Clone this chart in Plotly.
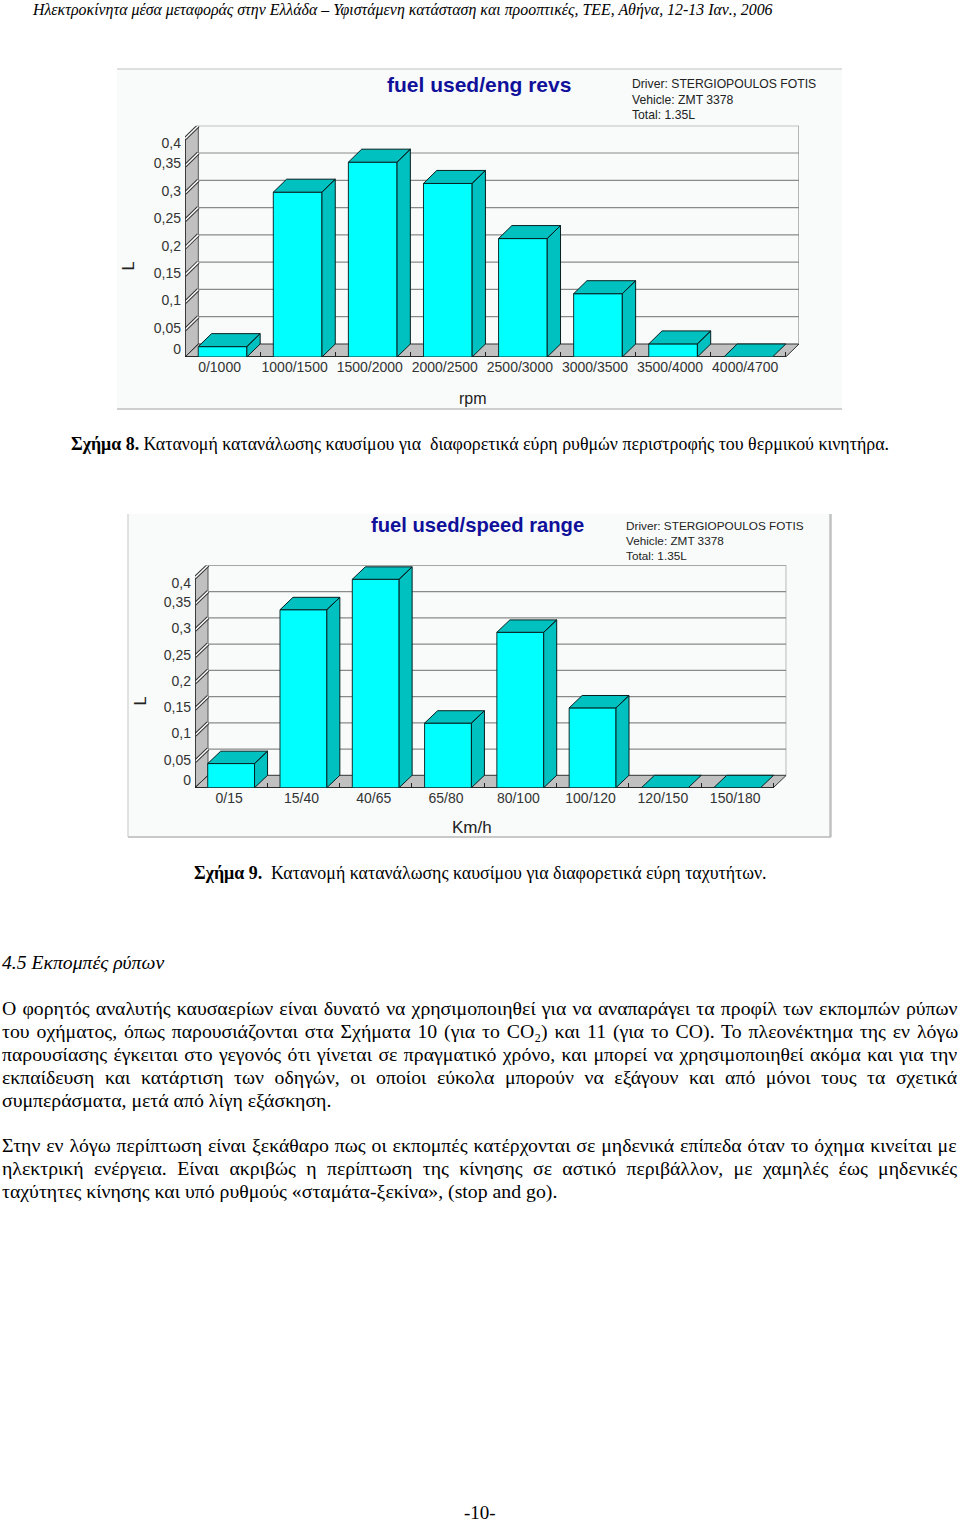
import plotly.graph_objects as go

# ---------- data ----------
rpm_categories = ["0/1000", "1000/1500", "1500/2000", "2000/2500", "2500/3000", "3000/3500", "3500/4000", "4000/4700"]
rpm_fuel = [0.019, 0.302, 0.357, 0.318, 0.217, 0.116, 0.024, 0.0]
speed_categories = ["0/15", "15/40", "40/65", "65/80", "80/100", "100/120", "120/150", "150/180"]
speed_fuel = [0.046, 0.339, 0.397, 0.123, 0.296, 0.152, 0.0, 0.0]
y_ticks = [0, 0.05, 0.1, 0.15, 0.2, 0.25, 0.3, 0.35, 0.4]
y_tick_labels = ["0", "0,05", "0,1", "0,15", "0,2", "0,25", "0,3", "0,35", "0,4"]

header = "Ηλεκτροκίνητα μέσα μεταφοράς στην Ελλάδα – Υφιστάμενη κατάσταση και προοπτικές, ΤΕΕ, Αθήνα, 12-13 Ιαν., 2006"
caption_8 = "<b>Σχήμα 8.</b> Κατανομή κατανάλωσης καυσίμου για  διαφορετικά εύρη ρυθμών περιστροφής του θερμικού κινητήρα."
caption_9 = "<b>Σχήμα 9.</b>  Κατανομή κατανάλωσης καυσίμου για διαφορετικά εύρη ταχυτήτων."
section = "4.5 Εκπομπές ρύπων"
body_lines = [
    "Ο φορητός αναλυτής καυσαερίων είναι δυνατό να χρησιμοποιηθεί για να αναπαράγει τα προφίλ των εκπομπών ρύπων",
    "του οχήματος, όπως παρουσιάζονται στα Σχήματα 10 (για το CO₂) και 11 (για το CO). Το πλεονέκτημα της εν λόγω",
    "παρουσίασης έγκειται στο γεγονός ότι γίνεται σε πραγματικό χρόνο, και μπορεί να χρησιμοποιηθεί ακόμα και για την",
    "εκπαίδευση και κατάρτιση των οδηγών, οι οποίοι εύκολα μπορούν να εξάγουν και από μόνοι τους τα σχετικά",
    "συμπεράσματα, μετά από λίγη εξάσκηση.",
    "Στην εν λόγω περίπτωση είναι ξεκάθαρο πως οι εκπομπές κατέρχονται σε μηδενικά επίπεδα όταν το όχημα κινείται με",
    "ηλεκτρική ενέργεια. Είναι ακριβώς η περίπτωση της κίνησης σε αστικό περιβάλλον, με χαμηλές έως μηδενικές",
    "ταχύτητες κίνησης και υπό ρυθμούς «σταμάτα-ξεκίνα», (stop and go).",
]
page_number = "-10-"

# ---------- layout constants ----------
W, H = 960, 1520
SERIF = "Liberation Serif"
SANS = "Liberation Sans"
CYAN = "#00ffff"
TEAL = "#00c0c0"
WALL = "#c0c0c0"
PANEL = "#f8fbfa"
GRID = "#8a8a8a"
body_y = [1008, 1031, 1054, 1077, 1100, 1145, 1168, 1191]
body_ws = [1.2, 1.95, 1.46, 5.6, 0, 0.94, 5.4, 0]

fig = go.Figure()
shapes, annotations = [], []


def px(x):
    return x / W


def py(y):
    return 1 - y / H


def note(x, y, text, size, family=SERIF, color="#000000", anchor="left", style="normal", angle=0):
    annotations.append(dict(xref="paper", yref="paper", x=px(x), y=py(y), text=text, showarrow=False,
                            xanchor=anchor, yanchor="middle", align="left", borderpad=0, textangle=angle,
                            font=dict(family=family, size=size, color=color, style=style)))


def panel(x0, y0, x1, y1):
    shapes.append(dict(type="rect", xref="paper", yref="paper", x0=px(x0), x1=px(x1), y0=py(y0), y1=py(y1),
                       fillcolor=PANEL, line_width=0, layer="below"))


def edge(x0, y0, x1, y1, color, width):
    shapes.append(dict(type="line", xref="paper", yref="paper", x0=px(x0), x1=px(x1), y0=py(y0), y1=py(y1),
                       line=dict(color=color, width=width), layer="below"))


def chart(n, cats, vals, left, right, floor, top, dx, dy, label_nudge_px, x_shift):
    """Pseudo-3D column chart; left/right/floor/top bound the front plane in page pixels."""
    xa, ya = f"x{n}" if n > 1 else "x", f"y{n}" if n > 1 else "y"
    nc = len(cats)
    xunit, yunit = (right - left) / nc, (floor - top) / max(y_ticks)
    du, dv = dx / xunit, dy / yunit
    ref = dict(xref=xa, yref=ya, layer="below")

    def poly(points, fill, color="#000000", width=1):
        d = "M" + " L".join(f"{a:.5f},{b:.5f}" for a, b in points) + " Z"
        shapes.append(dict(type="path", path=d, fillcolor=fill, line=dict(color=color, width=width), **ref))

    def seg(a0, b0, a1, b1, color, width):
        shapes.append(dict(type="line", x0=a0, y0=b0, x1=a1, y1=b1, line=dict(color=color, width=width), **ref))

    ymax = max(y_ticks)
    # wall and floor
    poly([(0, 0), (du, dv), (du, ymax + dv), (0, ymax)], WALL, "#555555", 1)
    poly([(0, 0), (nc, 0), (nc + du, dv), (du, dv)], WALL, "#333333", 1)
    # back plane grid
    for v in y_ticks[1:]:
        seg(du, v + dv, nc + du, v + dv, GRID, 1.2)
    seg(nc + du, dv, nc + du, ymax + dv, GRID, 1.2)
    # tick slats on the wall
    for v in y_ticks[1:]:
        seg(0, v, du, v + dv, "#333333", 3.5)
        seg(0, v, du, v + dv, "#ffffff", 1.5)
    seg(0, 0, du, dv, "#333333", 1)
    seg(0, 0, 0, ymax, "#222222", 1.5)
    seg(0, 0, nc, 0, "#111111", 1.5)

    centers = [i + 0.5 for i in range(nc)]
    bw = 0.648
    fig.add_trace(go.Bar(x=centers, y=vals, width=bw, xaxis=xa, yaxis=ya, hoverinfo="skip",
                         marker=dict(color=CYAN, line=dict(color="#103030", width=1))))
    fx, fy = [], []
    for c, v in zip(centers, vals):
        l, r = c - bw / 2, c + bw / 2
        face_top = [(l, v), (r, v), (r + du, v + dv), (l + du, v + dv), (l, v)]
        face_side = [(r, 0), (r + du, dv), (r + du, v + dv), (r, v), (r, 0)]
        for a, b in face_top + [(None, None)] + (face_side + [(None, None)] if v > 0 else []):
            fx.append(a)
            fy.append(b)
    fig.add_trace(go.Scatter(x=fx, y=fy, xaxis=xa, yaxis=ya, mode="lines", fill="toself", fillcolor=TEAL,
                             line=dict(color="#062020", width=1), hoverinfo="skip"))

    tickpos = [t + label_nudge_px.get(t, 0) / yunit for t in y_ticks]
    layout_x = dict(domain=[px(left), px(right + dx)], range=[0, nc + du], anchor=ya, tickmode="array",
                    tickvals=centers, ticktext=cats, ticks="", showgrid=False, zeroline=False, showline=False,
                    ticklabelshift=x_shift, ticklabelstandoff=0,
                    tickfont=dict(family=SANS, size=14, color="#333333"),
                    minor=dict(tickmode="array", tickvals=list(range(1, nc + 1)), ticks="inside", ticklen=5,
                               tickcolor="#222222", tickwidth=1))
    layout_y = dict(domain=[py(floor), py(top - dy)], range=[0, ymax + dv], anchor=xa, tickmode="array",
                    tickvals=tickpos, ticktext=y_tick_labels, ticks="", showgrid=False, zeroline=False,
                    showline=False, ticklabelstandoff=3,
                    tickfont=dict(family=SANS, size=14, color="#333333"))
    key = "" if n == 1 else str(n)
    fig.layout["xaxis" + key] = layout_x
    fig.layout["yaxis" + key] = layout_y


# ---------- panels ----------
panel(117, 69, 842, 409)
edge(117, 69, 842, 69, "#d4d4d4", 1.5)
edge(117, 409, 842, 409, "#cfcfcf", 2)
panel(128, 514, 830, 837)
edge(128, 514, 128, 837, "#d8d8d8", 1.5)
edge(128, 837, 831, 837, "#c8c8c8", 2)
edge(830.5, 514, 830.5, 837, "#c0c0c0", 2.5)

# ---------- charts ----------
chart(1, rpm_categories, rpm_fuel, 185, 785.7, 357, 138.7, 13.3, 13,
      {0: 8, 0.05: 2, 0.1: 2.4, 0.15: 2.4, 0.2: 2, 0.25: 2.6, 0.3: 2.6, 0.35: 3, 0.4: -4.3}, -3)
chart(2, speed_categories, speed_fuel, 195, 773.3, 787.7, 577.7, 13, 12.4,
      {0: 7.7, 0.05: 1.5, 0.1: 2, 0.15: 2, 0.2: 2, 0.25: 1.5, 0.3: 2, 0.35: 2, 0.4: -5}, -2)

# ---------- chart texts ----------
note(479, 84.5, "<b>fuel used/eng revs</b>", 21, SANS, "#10109a", "center")
note(631, 84, "Driver: STERGIOPOULOS FOTIS", 12.2, SANS, "#222222")
note(631, 99.5, "Vehicle: ZMT 3378", 12.2, SANS, "#222222")
note(631, 115, "Total: 1.35L", 12.2, SANS, "#222222")
note(127, 266.5, "L", 16.5, SANS, "#222222", "center", angle=-90)
note(473, 398, "rpm", 16, SANS, "#222222", "center")

note(477.5, 525.5, "<b>fuel used/speed range</b>", 20.2, SANS, "#10109a", "center")
note(625, 525, "Driver: STERGIOPOULOS FOTIS", 11.75, SANS, "#222222")
note(625, 540.5, "Vehicle: ZMT 3378", 11.75, SANS, "#222222")
note(625, 555.5, "Total: 1.35L", 11.75, SANS, "#222222")
note(139, 701.5, "L", 16.5, SANS, "#222222", "center", angle=-90)
note(471.5, 827, "Km/h", 17, SANS, "#222222", "center")

# ---------- document texts ----------
note(31, 10, header, 15.9, style="italic")
note(70, 444, caption_8, 17.9)
note(193, 873, caption_9, 17.9)
note(1, 962, section, 19.7, style="italic")
for line, y, ws in zip(body_lines, body_y, body_ws):
    note(1, y, f'<span style="word-spacing:{ws}px">{line}</span>', 19.8)
note(480, 1512, page_number, 19, anchor="center")

fig.update_layout(width=W, height=H, margin=dict(l=0, r=0, t=0, b=0), paper_bgcolor="#ffffff",
                  plot_bgcolor="rgba(0,0,0,0)", showlegend=False, hovermode=False, barmode="overlay",
                  shapes=shapes, annotations=annotations)
fig.write_html("out.html", config={"displayModeBar": False}, post_script="document.body.style.margin='0';")
